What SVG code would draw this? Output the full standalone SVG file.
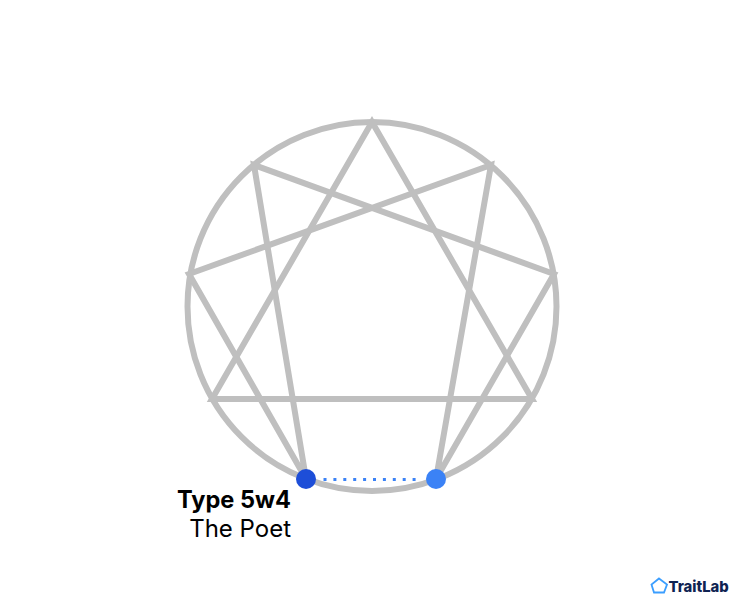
<svg xmlns="http://www.w3.org/2000/svg" width="747" height="610" viewBox="0 0 747 610">
<style>
.l{fill:none;stroke:#bfbfbf;stroke-width:6;stroke-linejoin:miter}
text{font-family:Inter,"Liberation Sans",sans-serif;fill:#000}
</style>
<rect width="747" height="610" fill="#fff"/>
<g id="connectors">
<circle class="l" cx="372" cy="306.500" r="184.500"/>
<polygon class="l" points="372,122 532,399 212,399"/>
<polygon class="l" points="491,165 436,479 554,274 254,165 306,479 189,274"/>
<line x1="323.500" y1="479.500" x2="420" y2="479.500" stroke="#3b82f6" stroke-width="3" stroke-dasharray="3 6.900"/>
</g>
<g id="node-5"><circle cx="306" cy="479" r="10" fill="#1d4ed8"/></g>
<g id="node-4"><circle cx="436" cy="479" r="10" fill="#3b82f6"/></g>
<g id="label">
<text x="291" y="508" text-anchor="end" font-size="23.600" font-weight="700">Type 5w4</text>
<text x="291" y="537" text-anchor="end" font-size="24">The Poet</text>
</g>
<g id="logo">
<polygon points="659,578.500 667,584.500 664,592.500 654,592.500 651.500,584.500" fill="none" stroke="#3b9eff" stroke-width="1.800"/>
<text x="668.500" y="591.500" font-size="14.800" font-weight="800" style="fill:#0f2352">TraitLab</text>
</g>
</svg>
